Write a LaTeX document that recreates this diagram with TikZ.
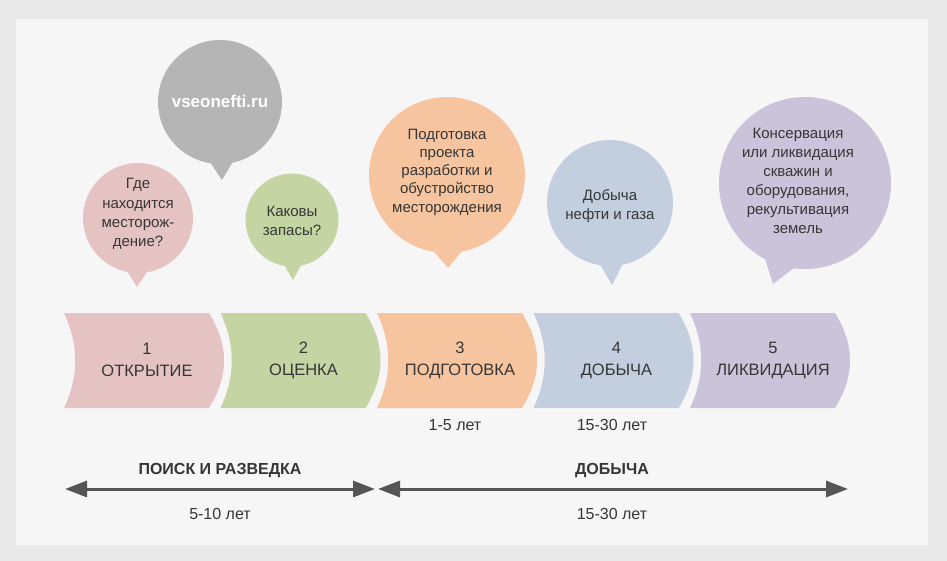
\documentclass[tikz,border=0pt]{standalone}
\usepackage{fontspec}
\setmainfont{Liberation Sans}
\usetikzlibrary{shapes.callouts,arrows.meta}
\definecolor{outerbg}{HTML}{E9E9E9}
\definecolor{innerbg}{HTML}{F6F6F6}
\definecolor{txt}{HTML}{363636}
\definecolor{chpink}{HTML}{E6C3C3}
\definecolor{chgreen}{HTML}{C4D5A3}
\definecolor{chorange}{HTML}{F6C5A0}
\definecolor{chblue}{HTML}{C3CFDF}
\definecolor{chpurple}{HTML}{CAC3D9}
\definecolor{bgray}{HTML}{B5B5B5}
\definecolor{arr}{HTML}{555555}
\begin{document}
\begin{tikzpicture}[x=1pt,y=-1pt,
  bubble/.style={ellipse callout, draw=none, inner sep=0pt, minimum size=#1, callout pointer arc=20},
  btext/.style={text=txt, align=center, font=\fontsize{15}{18.8}\selectfont},
  chtext/.style={text=txt, align=center, font=\fontsize{16.5}{22}\selectfont},
  lbl/.style={text=txt, font=\fontsize{16}{19}\selectfont},
  blbl/.style={text=txt, font=\fontsize{16}{19}\selectfont\bfseries},
  timeline/.style={draw=arr, line width=3pt, {Triangle[length=22pt,width=16pt]}-{Triangle[length=22pt,width=16pt]}}
]
\useasboundingbox (0,0) rectangle (947,561);
\fill[outerbg] (0,0) rectangle (947,561);
\fill[innerbg] (16,19) rectangle (928,545);

% chevrons
\foreach \i/\c/\t in {1/chpink/ОТКРЫТИЕ, 2/chgreen/ОЦЕНКА, 3/chorange/ПОДГОТОВКА, 4/chblue/ДОБЫЧА, 5/chpurple/ЛИКВИДАЦИЯ}{
  \pgfmathsetmacro\xa{64+156.5*(\i-1)}
  \fill[\c] (\xa,313) -- (\xa+145,313) .. controls (\xa+165,345) and (\xa+165,376) .. (\xa+145,408)
     -- (\xa,408) .. controls (\xa+15,376) and (\xa+15,345) .. (\xa,313) -- cycle;
  \node[chtext] (c\i) at (\xa+83,360) {\i\\\t};
}

% bubbles
\node[bubble=124pt, fill=bgray, callout absolute pointer={(222,180)}] (bg) at (220,102) {};
\node[text=white, font=\fontsize{17}{20}\selectfont\bfseries] (tg) at (220,101) {vseonefti.ru};

\node[bubble=110pt, fill=chpink, callout absolute pointer={(137,287)}] (b1) at (138,218) {};
\node[btext, font=\fontsize{15}{19.3}\selectfont] (t1) at (138,214) {Где\\находится\\месторож-\\дение?};

\node[bubble=93pt, fill=chgreen, callout absolute pointer={(293,280)}] (b2) at (292,220) {};
\node[btext] (t2) at (292,221) {Каковы\\запасы?};

\node[bubble=156pt, fill=chorange, callout absolute pointer={(448,268)}] (b3) at (447,175) {};
\node[btext, font=\fontsize{15}{18.3}\selectfont] (t3) at (447,172) {Подготовка\\проекта\\разработки и\\обустройство\\месторождения};

\node[bubble=126pt, fill=chblue, callout absolute pointer={(612,285)}] (b4) at (610,203) {};
\node[btext] (t4) at (610,206) {Добыча\\нефти и газа};

\node[bubble=172pt, fill=chpurple, callout absolute pointer={(773,284)}] (b5) at (805,183) {};
\node[btext, font=\fontsize{15}{19}\selectfont] (t5) at (798,181) {Консервация\\или ликвидация\\скважин и\\оборудования,\\рекультивация\\земель};

% durations under chevrons
\node[lbl] (d3) at (455,425) {1-5 лет};
\node[lbl] (d4) at (612,425) {15-30 лет};

% timelines
\coordinate (l1) at (65,489);
\coordinate (r1) at (375,489);
\coordinate (l2) at (378,489);
\coordinate (r2) at (848,489);
\draw[timeline] (l1) -- (r1);
\draw[timeline] (l2) -- (r2);
\node[blbl] (p1) at (220,471) {ПОИСК И РАЗВЕДКА};
\node[lbl] (q1) at (220,514) {5-10 лет};
\node[blbl] (p2) at (612,471) {ДОБЫЧА};
\node[lbl] (q2) at (612,514) {15-30 лет};
\end{tikzpicture}
\end{document}
